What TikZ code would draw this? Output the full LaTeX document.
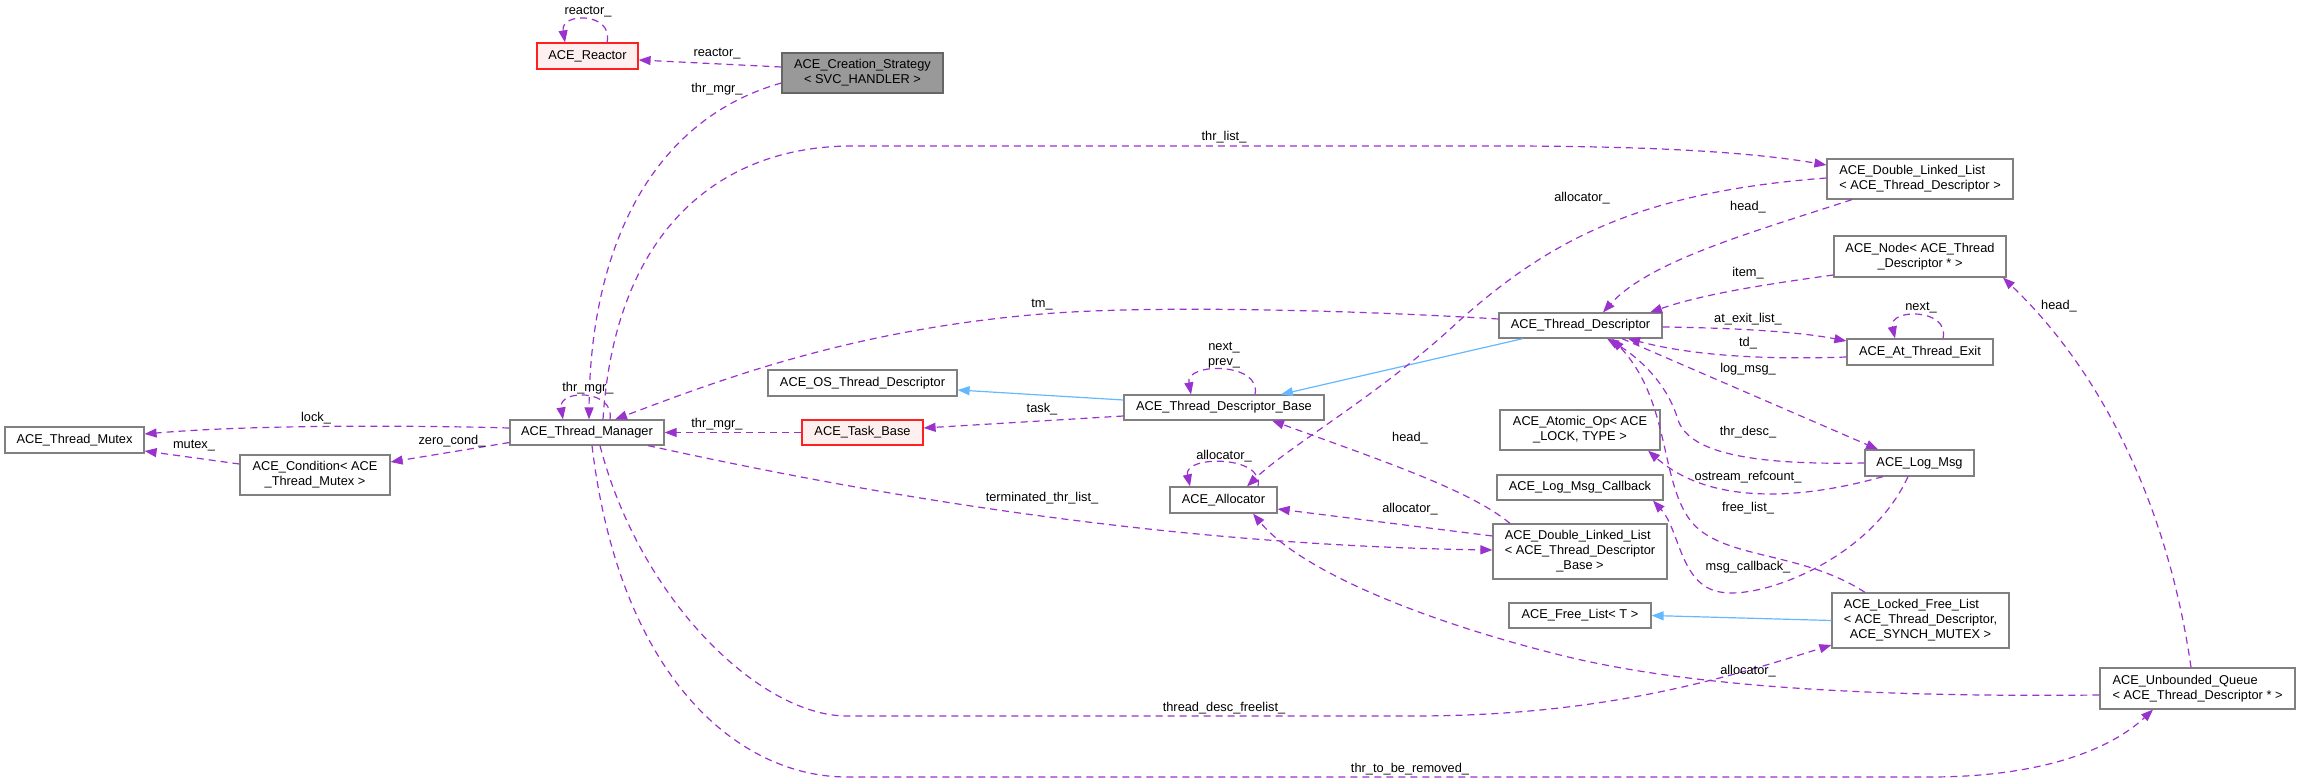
\documentclass[tikz,border=0pt]{standalone}
\usepackage{fontspec}
\setmainfont{Liberation Sans}
\usepackage{xcolor}
\usepackage{tikz}
\usetikzlibrary{arrows.meta, shapes}

\definecolor{useline}{HTML}{9A32CD}
\definecolor{inhline}{HTML}{63B8FF}
\definecolor{boxline}{HTML}{808080}
\definecolor{redline}{HTML}{FF2020}
\definecolor{pinkfill}{HTML}{FFF0F0}
\definecolor{mainfill}{HTML}{999999}
\definecolor{mainline}{HTML}{666666}

% first line left, the others centred
\newcommand{\tmplname}[2]{\begin{tabular}{@{}c@{}}\multicolumn{1}{@{}l@{}}{#1}\\#2\end{tabular}}

\begin{document}
\begin{tikzpicture}[x=1pt,y=-1pt,
    usage/.style={draw=useline,line width=1.2pt,dash pattern=on 7pt off 5pt,-{Triangle[length=12pt,width=9pt]}},
    inherit/.style={draw=inhline,line width=1.2pt,-{Triangle[length=12pt,width=9pt]}},
    redbox/.style={draw=redline,fill=pinkfill},
    mainbox/.style={draw=mainline,fill=mainfill},
    lbl/.style={font=\fontsize{12.8}{15}\selectfont,inner sep=0pt,align=center}]
  \useasboundingbox (0,0) rectangle (2305,783);
  \begin{scope}[every node/.style={draw=boxline,line width=1.2pt,fill=white,inner sep=0pt,align=center,font=\fontsize{12.8}{15}\selectfont}]
    \node[redbox,minimum width=101pt,minimum height=26pt] (reactor) at (587.5,56) {ACE\_Reactor};
    \node[mainbox,minimum width=161pt,minimum height=40pt] (strategy) at (862.5,73) {ACE\_Creation\_Strategy\\< SVC\_HANDLER >};
    \node[minimum width=154pt,minimum height=25pt] (mgr) at (587,432.5) {ACE\_Thread\_Manager};
    \node[minimum width=139pt,minimum height=26pt] (mutex) at (74.5,440) {ACE\_Thread\_Mutex};
    \node[minimum width=150pt,minimum height=40pt] (cond) at (315,475) {ACE\_Condition< ACE\\\_Thread\_Mutex >};
    \node[minimum width=189pt,minimum height=26pt] (osdesc) at (862.5,383) {ACE\_OS\_Thread\_Descriptor};
    \node[redbox,minimum width=121pt,minimum height=25pt] (task) at (862.5,432.5) {ACE\_Task\_Base};
    \node[minimum width=200pt,minimum height=25pt] (tdbase) at (1224,407.5) {ACE\_Thread\_Descriptor\_Base};
    \node[minimum width=107pt,minimum height=26pt] (alloc) at (1223.5,500) {ACE\_Allocator};
    \node[minimum width=186pt,minimum height=40pt] (dlltd) at (1920,179) {\tmplname{ACE\_Double\_Linked\_List}{< ACE\_Thread\_Descriptor >}};
    \node[minimum width=172pt,minimum height=41pt] (tnode) at (1920,256.5) {ACE\_Node< ACE\_Thread\\\_Descriptor * >};
    \node[minimum width=163pt,minimum height=25pt] (td) at (1580.5,325.5) {ACE\_Thread\_Descriptor};
    \node[minimum width=146pt,minimum height=26pt] (exit) at (1920,352) {ACE\_At\_Thread\_Exit};
    \node[minimum width=160pt,minimum height=40pt] (atomic) at (1580,430) {ACE\_Atomic\_Op< ACE\\\_LOCK, TYPE >};
    \node[minimum width=109pt,minimum height=26pt] (logmsg) at (1919.5,463) {ACE\_Log\_Msg};
    \node[minimum width=166pt,minimum height=25pt] (callback) at (1580,487.5) {ACE\_Log\_Msg\_Callback};
    \node[minimum width=174pt,minimum height=55pt] (dlltdb) at (1580,551.5) {\tmplname{ACE\_Double\_Linked\_List}{< ACE\_Thread\_Descriptor\\\_Base >}};
    \node[minimum width=142pt,minimum height=25pt] (freelist) at (1580,615.5) {ACE\_Free\_List< T >};
    \node[minimum width=177pt,minimum height=55pt] (lfl) at (1920.5,620.5) {\tmplname{ACE\_Locked\_Free\_List}{< ACE\_Thread\_Descriptor,\\ACE\_SYNCH\_MUTEX >}};
    \node[minimum width=195pt,minimum height=41pt] (queue) at (2197.5,688.5) {\tmplname{ACE\_Unbounded\_Queue}{< ACE\_Thread\_Descriptor * >}};
  \end{scope}
  % inheritance
  \draw[inherit] ([yshift=7.5pt]tdbase.west) -- ([yshift=-7pt]osdesc.east);
  \draw[inherit] ([xshift=-57.5pt]td.south) -- ([xshift=57pt]tdbase.north);
  \draw[inherit] (lfl.west) -- (freelist.east);
  % members
  \draw[usage] ([xshift=19.5pt]reactor.north) .. controls (614,12) and (560,12) .. ([xshift=-22.5pt]reactor.north);
  \draw[usage] ([yshift=6pt]strategy.west) -- ([yshift=-4pt]reactor.east);
  \draw[usage] ([yshift=-10pt]strategy.west) .. controls (650,120) and (590,250) .. ([xshift=2pt]mgr.north);
  \draw[usage] ([xshift=23pt]mgr.north) .. controls (615,389) and (558,389) .. ([xshift=-24pt]mgr.north);
  \draw[usage] ([xshift=16pt]mgr.north) .. controls (615,230) and (720,146) .. (852,146) -- (1500,146) .. controls (1650,146) and (1750,152) .. ([yshift=14pt]dlltd.west);
  \draw[usage] ([yshift=6.5pt]td.west) .. controls (1350,310) and (1150,305) .. (1042,314) .. controls (850,330) and (720,380) .. ([xshift=28pt]mgr.north);
  \draw[usage] ([yshift=4.5pt]mgr.west) .. controls (400,425) and (250,425) .. ([yshift=6pt]mutex.east);
  \draw[usage] ([yshift=11pt]cond.west) -- ([yshift=-11pt]mutex.east);
  \draw[usage] ([yshift=-10pt]mgr.west) -- ([yshift=13pt]cond.east);
  \draw[usage] (task.west) -- (mgr.east);
  \draw[usage] ([yshift=-8.5pt]tdbase.west) -- ([yshift=4.5pt]task.east);
  \draw[usage] ([xshift=31pt]tdbase.north) .. controls (1262,362) and (1185,362) .. ([xshift=-33pt]tdbase.north);
  \draw[usage] ([yshift=1pt]dlltd.west) .. controls (1640,192) and (1550,240) .. (1460,320) .. controls (1380,395) and (1290,445) .. ([xshift=23.5pt]alloc.north);
  \draw[usage] ([xshift=-68pt]dlltd.south) .. controls (1760,230) and (1650,260) .. ([xshift=22.5pt]td.north);
  \draw[usage] ([yshift=-18.5pt]tnode.west) .. controls (1760,285) and (1700,295) .. ([xshift=69.5pt]td.north);
  \draw[usage] ([yshift=-1.5pt]td.east) .. controls (1740,328) and (1800,332) .. ([yshift=11pt]exit.west);
  \draw[usage] ([yshift=-5pt]exit.west) .. controls (1760,360) and (1690,355) .. ([xshift=47.5pt]td.south);
  \draw[usage] ([xshift=23pt]exit.north) .. controls (1950,308) and (1888,308) .. ([xshift=-25pt]exit.north);
  \draw[usage] ([xshift=41.5pt]td.south) -- ([xshift=-41.5pt]logmsg.north);
  \draw[usage] (logmsg.west) .. controls (1760,465) and (1690,455) .. (1678,420) .. controls (1668,385) and (1640,358) .. ([xshift=26.5pt]td.south);
  \draw[usage] ([xshift=-36.5pt]logmsg.south) .. controls (1800,500) and (1710,505) .. ([xshift=68pt]atomic.south);
  \draw[usage] ([xshift=-11.5pt]logmsg.south) .. controls (1870,560) and (1760,600) .. (1720,592) .. controls (1680,585) and (1680,530) .. ([xshift=73pt]callback.south);
  \draw[usage] ([xshift=-55.5pt]lfl.north) .. controls (1800,550) and (1720,560) .. (1690,520) .. controls (1660,480) and (1670,400) .. ([xshift=31.5pt]td.south);
  \draw[usage] ([xshift=13pt]mgr.south) .. controls (640,600) and (760,716) .. (847,716) -- (1413,716) .. controls (1600,716) and (1720,680) .. ([yshift=-24.5pt]lfl.west);
  \draw[usage] ([xshift=61pt]mgr.south) .. controls (850,490) and (1150,545) .. ([yshift=1.5pt]dlltdb.west);
  \draw[usage] ([yshift=15.5pt]dlltdb.west) -- ([yshift=-9pt]alloc.east);
  \draw[usage] ([xshift=-70pt]dlltdb.north) .. controls (1470,490) and (1380,460) .. ([xshift=48pt]tdbase.south);
  \draw[usage] ([xshift=34.5pt]alloc.north) .. controls (1265,455) and (1183,455) .. ([xshift=-33.5pt]alloc.north);
  \draw[usage] ([yshift=-6.5pt]queue.west) .. controls (1900,697) and (1700,690) .. (1560,655) .. controls (1420,620) and (1300,570) .. ([xshift=29.5pt]alloc.south);
  \draw[usage] ([xshift=-6.5pt]queue.north) .. controls (2170,520) and (2110,380) .. ([xshift=83pt]tnode.south);
  \draw[usage] ([xshift=5pt]mgr.south) .. controls (620,680) and (740,777) .. (847,777) -- (1930,777) .. controls (2040,777) and (2110,750) .. ([xshift=-44.5pt]queue.south);
  % edge labels
  \begin{scope}[every node/.style={lbl}]
    \node (lreactora) at (588,12) {reactor\_};
    \node (lreactorb) at (717,54) {reactor\_};
    \node (lmgra) at (717,89) {thr\_mgr\_};
    \node (lmgrb) at (588,388) {thr\_mgr\_};
    \node (lmgrc) at (717,424) {thr\_mgr\_};
    \node (lthrlist) at (1224,137) {thr\_list\_};
    \node (ltm) at (1042,305) {tm\_};
    \node (llock) at (316,418) {lock\_};
    \node (lmutex) at (194,446) {mutex\_};
    \node (lzero) at (452,441) {zero\_cond\_};
    \node (ltask) at (1042,409) {task\_};
    \node (lnextprev) at (1224,355) {next\_\\prev\_};
    \node (lalloca) at (1582,198) {allocator\_};
    \node (lheada) at (1748,207) {head\_};
    \node (litem) at (1748,273) {item\_};
    \node (latexit) at (1748,319) {at\_exit\_list\_};
    \node (ltd) at (1748,343) {td\_};
    \node (lnext) at (1921,308) {next\_};
    \node (llogmsg) at (1748,369) {log\_msg\_};
    \node (lthrdesc) at (1748,432) {thr\_desc\_};
    \node (lostream) at (1748,477) {ostream\_refcount\_};
    \node (lfree) at (1748,508) {free\_list\_};
    \node (lcallback) at (1748,567) {msg\_callback\_};
    \node (lallocb) at (1748,671) {allocator\_};
    \node (lfreelist) at (1224,708) {thread\_desc\_freelist\_};
    \node (lterm) at (1042,498) {terminated\_thr\_list\_};
    \node (lallocc) at (1410,509) {allocator\_};
    \node (lheadb) at (1410,438) {head\_};
    \node (lallocd) at (1224,456) {allocator\_};
    \node (lheadc) at (2059,306) {head\_};
    \node (lremoved) at (1410,769) {thr\_to\_be\_removed\_};
  \end{scope}
\end{tikzpicture}
\end{document}
